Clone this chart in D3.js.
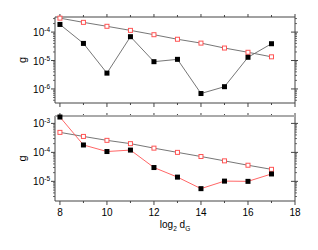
<!DOCTYPE html>
<meta charset="utf-8">
<style>
body { margin: 0; background: #fff; }
text { font-family: "Liberation Sans", Arial, sans-serif; fill: #000; }
</style>
<svg width="318" height="250"></svg>
<script src="https://cdn.jsdelivr.net/npm/d3@7"></script>
<script>
var xs = [8, 9, 10, 11, 12, 13, 14, 15, 16, 17];
var xTicks = [8, 10, 12, 14, 16, 18];
var topBlack = [1.86e-4, 4.0e-5, 3.6e-6, 6.9e-5, 9.1e-6, 1.1e-5, 6.9e-7, 1.2e-6, 1.3e-5, 3.9e-5];
var topRed = [3.1e-4, 2.2e-4, 1.6e-4, 1.15e-4, 8.1e-5, 5.6e-5, 4.1e-5, 2.75e-5, 1.95e-5, 1.35e-5];
var botBlack = [1.66e-3, 1.8e-4, 1.07e-4, 1.2e-4, 3.0e-5, 1.4e-5, 5.6e-6, 1.02e-5, 1.0e-5, 1.8e-5];
var botRed = [4.9e-4, 3.55e-4, 2.6e-4, 2.0e-4, 1.4e-4, 1.0e-4, 7.2e-5, 5.1e-5, 3.6e-5, 2.6e-5];
var topExp = [-4, -5, -6];
var botExp = [-3, -4, -5];

var svg = d3.select("svg");
var left = 55, right = 295;
var x = d3.scaleLinear().domain([7.79, 18]).range([left, right]);
var axisColor = "#444", lineGray = "#666", red = "#f55";

function panel(top, bottom, ydom, exps, black, redv, blackLine, showXLabels, topBorder) {
  var y = d3.scaleLog().domain(ydom).range([bottom, top]);
  var g = svg.append("g");

  // minor log ticks left and right
  var minor = [];
  var lo = Math.floor(Math.log10(ydom[0])), hi = Math.ceil(Math.log10(ydom[1]));
  for (var e = lo; e <= hi; e++) {
    for (var m = 2; m <= 9; m++) {
      var v = m * Math.pow(10, e);
      if (v >= ydom[0] && v <= ydom[1]) minor.push(v);
    }
  }
  g.selectAll(".mnl").data(minor).enter().append("line")
    .attr("x1", left - 2).attr("x2", left).attr("y1", y).attr("y2", y)
    .attr("stroke", axisColor).attr("stroke-width", 0.8);
  g.selectAll(".mnr").data(minor).enter().append("line")
    .attr("x1", right).attr("x2", right + 2).attr("y1", y).attr("y2", y)
    .attr("stroke", axisColor).attr("stroke-width", 0.8);
  var majors = exps.map(function(e) { return Math.pow(10, e); });
  g.selectAll(".mjl").data(majors).enter().append("line")
    .attr("x1", left - 4).attr("x2", left).attr("y1", y).attr("y2", y)
    .attr("stroke", axisColor);
  g.selectAll(".mjr").data(majors).enter().append("line")
    .attr("x1", right - 4).attr("x2", right + 3).attr("y1", y).attr("y2", y)
    .attr("stroke", axisColor);

  // tick labels 10^e
  var lab = g.selectAll(".yl").data(exps).enter().append("text")
    .attr("x", 50).attr("y", function(e) { return y(Math.pow(10, e)) + 4; })
    .attr("text-anchor", "end").style("font-size", "10px");
  lab.append("tspan").text("10");
  lab.append("tspan").attr("dy", -4).style("font-size", "6.5px")
    .text(function(e) { return "-" + Math.abs(e); });

  // x ticks
  var allX = d3.range(8, 19);
  g.selectAll(".xt").data(allX).enter().append("line")
    .attr("x1", x).attr("x2", x).attr("y1", bottom)
    .attr("y2", function(d) { return bottom + (d % 2 === 0 ? 4 : 2); })
    .attr("stroke", axisColor);
  g.selectAll(".xtt").data(allX).enter().append("line")
    .attr("x1", x).attr("x2", x).attr("y1", top)
    .attr("y2", function(d) { return top - (d % 2 === 0 ? 3 : 2); })
    .attr("stroke", axisColor);
  if (showXLabels) {
    g.selectAll(".xl").data(xTicks).enter().append("text")
      .attr("x", x).attr("y", bottom + 15).attr("text-anchor", "middle")
      .style("font-size", "10px").text(function(d) { return d; });
  }

  // frame
  g.append("line").attr("x1", left).attr("x2", left).attr("y1", top).attr("y2", bottom).attr("stroke", axisColor);
  g.append("line").attr("x1", right).attr("x2", right).attr("y1", top).attr("y2", bottom).attr("stroke", axisColor);
  g.append("line").attr("x1", left).attr("x2", right).attr("y1", bottom).attr("y2", bottom).attr("stroke", axisColor);
  g.append("line").attr("x1", left).attr("x2", right).attr("y1", top).attr("y2", top)
    .attr("stroke", topBorder.c).attr("stroke-width", topBorder.w);

  var line = d3.line().x(function(d) { return x(d[0]); }).y(function(d) { return y(d[1]); });
  var bd = xs.map(function(v, i) { return [v, black[i]]; });
  var rd = xs.map(function(v, i) { return [v, redv[i]]; });
  g.append("path").datum(rd).attr("d", line).attr("fill", "none").attr("stroke", lineGray).attr("stroke-width", 0.9);
  g.append("path").datum(bd).attr("d", line).attr("fill", "none").attr("stroke", blackLine).attr("stroke-width", 0.9);
  g.selectAll(".rs").data(rd).enter().append("rect")
    .attr("x", function(d) { return x(d[0]) - 2; }).attr("y", function(d) { return y(d[1]) - 2; })
    .attr("width", 4).attr("height", 4).attr("fill", "#fff").attr("stroke", red).attr("stroke-width", 1);
  g.selectAll(".bs").data(bd).enter().append("rect")
    .attr("x", function(d) { return x(d[0]) - 2.5; }).attr("y", function(d) { return y(d[1]) - 2.5; })
    .attr("width", 5).attr("height", 5).attr("fill", "#000");

  g.append("text").attr("transform", "translate(26," + ((top + bottom) / 2) + ") rotate(-90)")
    .attr("text-anchor", "middle").style("font-size", "11px").text("g");
}

panel(17, 103, [3.2e-7, 3.4e-4], topExp, topBlack, topRed, lineGray, false, {c: axisColor, w: 1});
panel(116, 201, [2.1e-6, 1.8e-3], botExp, botBlack, botRed, red, true, {c: "#aaa", w: 2});

var xl = svg.append("text").attr("x", 175).attr("y", 228).attr("text-anchor", "middle").style("font-size", "10px");
xl.append("tspan").text("log");
xl.append("tspan").attr("dy", 3).style("font-size", "6.5px").text("2");
xl.append("tspan").attr("dy", -3).text(" d");
xl.append("tspan").attr("dy", 3).style("font-size", "6.5px").text("G");
</script>
